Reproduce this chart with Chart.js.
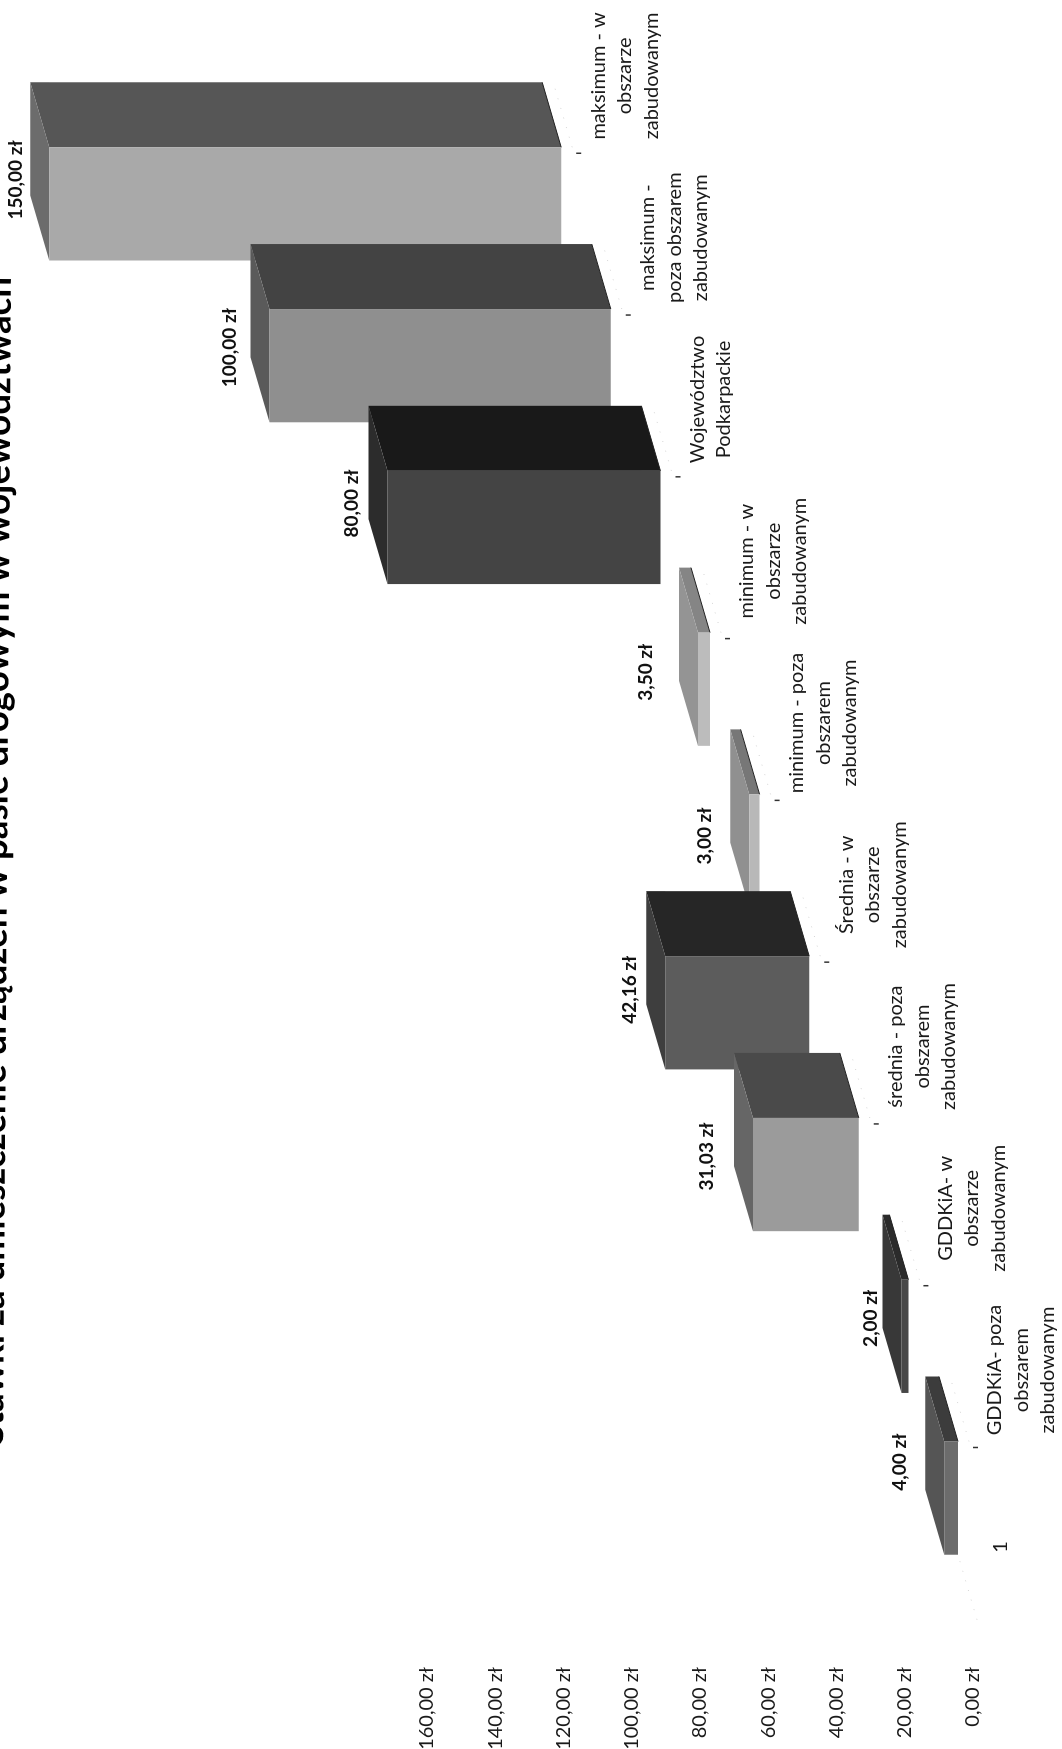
<!DOCTYPE html>
<html lang="pl">
<head>
<meta charset="utf-8">
<title>Stawki za umieszczenie urządzeń</title>
<script src="https://cdn.jsdelivr.net/npm/chart.js@4/dist/chart.umd.js"></script>
<style>
    html, body { margin: 0; padding: 0; background: #fff; overflow: hidden; }
    body { width: 1062px; height: 1749px; position: relative; }
    /* the scan lies on its side, so the whole chart is turned 90deg left */
    #wrap {
        position: absolute; left: 0; top: 0;
        width: 1749px; height: 1062px;
        transform-origin: 0 0;
        transform: translate(0, 1749px) rotate(-90deg);
    }
    canvas { display: block; }
</style>
</head>
<body>
<div id="wrap"><canvas id="chart" width="1749" height="1062"></canvas></div>
<script>
const titleText = 'Stawki za umieszczenie urządzeń w pasie drogowym w województwach';

const categories = ['1'];

const seriesNames = [
    ['GDDKiA- poza', 'obszarem', 'zabudowanym'],
    ['GDDKiA- w', 'obszarze', 'zabudowanym'],
    ['średnia - poza', 'obszarem', 'zabudowanym'],
    ['Średnia - w', 'obszarze', 'zabudowanym'],
    ['minimum - poza', 'obszarem', 'zabudowanym'],
    ['minimum - w', 'obszarze', 'zabudowanym'],
    ['Województwo', 'Podkarpackie'],
    ['maksimum -', 'poza obszarem', 'zabudowanym'],
    ['maksimum - w', 'obszarze', 'zabudowanym']
];

const seriesValues = [4, 2, 31.03, 42.16, 3, 3.5, 80, 100, 150];

const tickLabels = ['0,00 zł', '20,00 zł', '40,00 zł', '60,00 zł', '80,00 zł',
    '100,00 zł', '120,00 zł', '140,00 zł', '160,00 zł'];

// greys of the scan, one per series
const frontColors = ['#6c6c6c', '#474747', '#9b9b9b', '#5c5c5c', '#b8b8b8', '#bcbcbc', '#444444', '#8f8f8f', '#a9a9a9'];
const sideColors = ['#3c3c3c', '#2b2b2b', '#4a4a4a', '#262626', '#777777', '#858585', '#191919', '#434343', '#565656'];
const endColors = ['#555555', '#383838', '#666666', '#3e3e3e', '#909090', '#949494', '#2c2c2c', '#5a5a5a', '#6c6c6c'];

// hand placed value labels in the original, offset from the front face
const labelNudgeAlong = [36, 18, 18, 23, 15, 17, 24, 18, 24];
const labelNudgeUp = [44, 31, 46, 35, 44, 52, 36, 40, 33];

const DEPTH_STEP = 49.6;   // every series sits further back on the value axis
const FIRST_SHIFT = 15;
const DEPTH_U = 65;
const DEPTH_V = 19;

const money = v => v.toFixed(2).replace('.', ',') + ' zł';
const shiftFor = i => -(FIRST_SHIFT + DEPTH_STEP * i);

function poly(ctx, pts, fill) {
    ctx.beginPath();
    pts.forEach((p, i) => i ? ctx.lineTo(p[0], p[1]) : ctx.moveTo(p[0], p[1]));
    ctx.closePath();
    ctx.fillStyle = fill;
    ctx.fill();
}

// faint dotted floor lines left over in the scan
function floorLine(ctx, u, v) {
    ctx.save();
    ctx.strokeStyle = '#d4d4d4';
    ctx.lineWidth = 1;
    ctx.setLineDash([1, 9]);
    ctx.beginPath();
    ctx.moveTo(u, v);
    ctx.lineTo(u + DEPTH_U, v - DEPTH_V);
    ctx.stroke();
    ctx.restore();
}

const box3d = {
    id: 'box3d',
    beforeDatasetDraw(chart, args) {
        const ctx = chart.ctx;
        const i = args.index;
        const bar = args.meta.data[0];
        const left = bar.x - bar.width / 2;
        const right = bar.x + bar.width / 2;
        ctx.save();
        ctx.translate(0, shiftFor(i));
        // long side of the box
        poly(ctx, [[right, bar.y], [right, bar.base], [right + DEPTH_U, bar.base - DEPTH_V], [right + DEPTH_U, bar.y - DEPTH_V]], sideColors[i]);
        // end of the box
        poly(ctx, [[left, bar.y], [right, bar.y], [right + DEPTH_U, bar.y - DEPTH_V], [left + DEPTH_U, bar.y - DEPTH_V]], endColors[i]);
        ctx.strokeStyle = '#222';
        ctx.lineWidth = 1;
        ctx.beginPath();
        ctx.moveTo(right, bar.base);
        ctx.lineTo(right + DEPTH_U, bar.base - DEPTH_V);
        ctx.stroke();
    },
    afterDatasetDraw(chart) {
        chart.ctx.restore();
    },
    afterDraw(chart) {
        const ctx = chart.ctx;
        ctx.save();

        // title runs slightly crooked and is cut by the edge of the scan
        ctx.save();
        ctx.translate(304, 3);
        ctx.rotate(Math.atan2(8, 1166));
        ctx.font = 'bold 36.8px Lato';
        ctx.fillStyle = '#000';
        ctx.textAlign = 'left';
        ctx.textBaseline = 'alphabetic';
        ctx.fillText(titleText, 0, 0);
        ctx.restore();

        seriesValues.forEach((value, i) => {
            const bar = chart.getDatasetMeta(i).data[0];
            const shift = shiftFor(i);
            const baseV = bar.base + shift;
            const right = bar.x + bar.width / 2;

            floorLine(ctx, right, baseV + 11);
            if (i === 0) floorLine(ctx, bar.x - bar.width / 2 - 65, baseV + 19);

            // value label
            ctx.font = 'bold 19px Lato';
            ctx.fillStyle = '#111';
            ctx.textAlign = 'center';
            ctx.textBaseline = 'middle';
            ctx.fillText(money(value), bar.x + labelNudgeAlong[i], bar.y + shift - labelNudgeUp[i]);

            // series name
            ctx.font = '20px Lato';
            ctx.fillStyle = '#1a1a1a';
            seriesNames[i].forEach((line, n) => {
                ctx.fillText(line, bar.x + 128, baseV + 37 + n * 26.5);
            });

            // depth axis tick
            ctx.strokeStyle = '#333';
            ctx.lineWidth = 1.5;
            ctx.beginPath();
            ctx.moveTo(right - 6, baseV + 15);
            ctx.lineTo(right - 6, baseV + 20);
            ctx.stroke();
        });
        ctx.restore();
    }
};

new Chart(document.getElementById('chart'), {
    type: 'bar',
    data: {
        labels: categories,
        datasets: seriesValues.map((value, i) => ({
            label: seriesNames[i].join(' '),
            data: [value],
            backgroundColor: frontColors[i],
            borderWidth: 0,
            barPercentage: 0.7,
            categoryPercentage: 1,
            clip: false
        }))
    },
    options: {
        responsive: false,
        animation: false,
        events: [],
        layout: { padding: { top: 427, right: 123, bottom: 0, left: 0 } },
        plugins: { legend: { display: false }, tooltip: { enabled: false }, title: { display: false } },
        scales: {
            x: {
                grid: { display: false, drawTicks: false },
                border: { display: false },
                afterFit(scale) { scale.height = 89; },
                ticks: {
                    color: '#1a1a1a',
                    font: { family: 'Lato', size: 20 },
                    padding: 16,
                    labelOffset: -696,
                    maxRotation: 0,
                    autoSkip: false
                }
            },
            y: {
                min: 0,
                max: 160,
                // tick length instead of tick padding, padding would also eat into the chart area
                grid: { display: false, drawTicks: true, tickLength: 88 },
                border: { display: false },
                afterFit(scale) { scale.width = 170; },
                ticks: {
                    stepSize: 20,
                    color: '#1a1a1a',
                    font: { family: 'Lato', size: 20 },
                    padding: 0,
                    callback: (value, index) => tickLabels[index]
                }
            }
        }
    },
    plugins: [box3d]
});
</script>
</body>
</html>
